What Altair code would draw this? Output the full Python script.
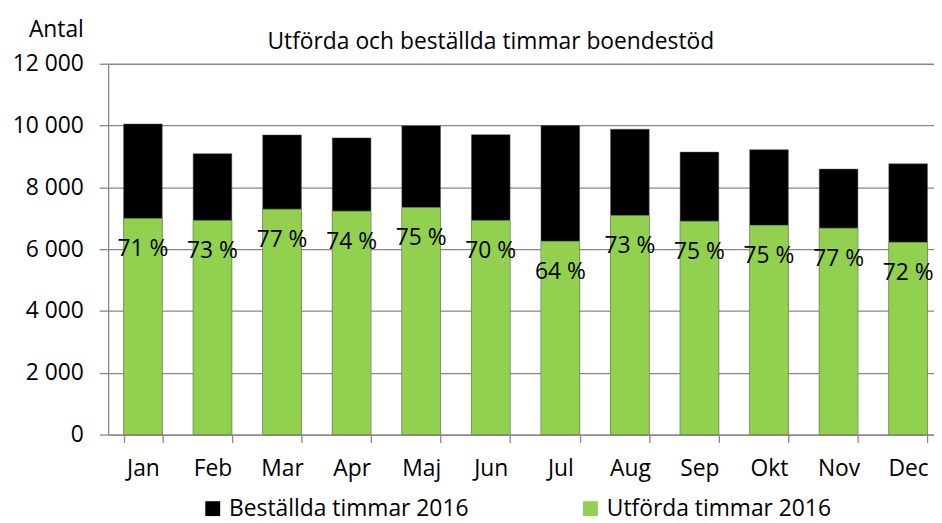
import altair as alt
import pandas as pd

months = ["Jan", "Feb", "Mar", "Apr", "Maj", "Jun", "Jul", "Aug", "Sep", "Okt", "Nov", "Dec"]
bestallda = [10050, 9090, 9695, 9600, 9995, 9705, 10005, 9880, 9140, 9220, 8590, 8760]
utforda = [6995, 6930, 7295, 7230, 7345, 6930, 6255, 7090, 6905, 6770, 6680, 6220]
labels = ["71 %", "73 %", "77 %", "74 %", "75 %", "70 %", "64 %", "73 %", "75 %", "75 %", "77 %", "72 %"]

SER_B = "Beställda timmar 2016"
SER_U = "Utförda timmar 2016"
TITLE = "Utförda och beställda timmar boendestöd"

FONT = "Open Sans"
GRID = "#878787"

bars_df = pd.DataFrame({
    "month": months * 2,
    "series": [SER_B] * len(months) + [SER_U] * len(months),
    "value": bestallda + utforda,
})
lab_df = pd.DataFrame({"month": months, "value": utforda, "label": labels})
title_df = pd.DataFrame({"t": [TITLE]})

xscale = alt.Scale(domain=months, range=[0, 842], paddingInner=0.444, paddingOuter=0.222)
yscale = alt.Scale(domain=[0, 12000], nice=False)
cscale = alt.Scale(domain=[SER_B, SER_U], range=["#000000", "#92D050"])

x_enc = alt.X(
    "month:N", sort=months, scale=xscale,
    axis=alt.Axis(
        title=None, labelAngle=0, tickBand="extent", tickSize=8, labelPadding=15,
        labelFontSize=23, labelFont=FONT, labelColor="black",
        domainColor=GRID, tickColor=GRID, domainWidth=1.3, tickWidth=1.3, grid=False,
    ),
)
y_enc = alt.Y(
    "value:Q", stack=None, scale=yscale,
    axis=alt.Axis(
        title="Antal", titleAngle=0, titleAlign="right", titleBaseline="alphabetic",
        titleX=-25, titleY=-27, titleFont=FONT, titleFontSize=23,
        titleFontWeight="normal", titleColor="black",
        values=list(range(0, 12001, 2000)),
        labelExpr="replace(format(datum.value, ','), ',', ' ')",
        labelFontSize=23, labelFont=FONT, labelColor="black", labelPadding=16,
        tickSize=9, tickColor=GRID, tickWidth=1.3, domainColor=GRID, domainWidth=1.3,
        grid=True, gridColor=GRID, gridWidth=1.3,
    ),
)
color_enc = alt.Color(
    "series:N", scale=cscale,
    legend=alt.Legend(
        orient="none", legendX=94, legendY=437, direction="horizontal", title=None,
        symbolType="square", symbolSize=225, symbolStrokeWidth=0,
        labelFont=FONT, labelFontSize=23, labelColor="black", labelOffset=5,
        columnPadding=111, labelLimit=400,
    ),
)

base = alt.Chart(bars_df)
black = base.transform_filter(alt.datum.series == SER_B).mark_bar(
    stroke="#555555", strokeWidth=0.5
).encode(x=x_enc, y=y_enc, color=color_enc)
green = base.transform_filter(alt.datum.series == SER_U).mark_bar(
    stroke="#7a9a5a", strokeWidth=0.5
).encode(x=x_enc, y=y_enc, color=color_enc)

text = alt.Chart(lab_df).mark_text(
    font=FONT, fontSize=23, color="black", baseline="alphabetic", dy=38, align="center"
).encode(
    x=alt.X("month:N", sort=months, scale=xscale),
    y=alt.Y("value:Q", scale=yscale),
    text="label:N",
)

title = alt.Chart(title_df).mark_text(
    font=FONT, fontSize=23, color="black", baseline="alphabetic", align="center"
).encode(x=alt.value(386), y=alt.value(-15), text="t:N")

chart = alt.layer(black, green, text, title).properties(
    width=833, height=374,
    autosize=alt.AutoSizeParams(type="none"),
    padding={"left": 101, "top": 54, "right": 0, "bottom": 87},
    background="white",
).configure_view(stroke=None)

chart.save("out.html", embed_options={"renderer": "svg", "actions": False})
